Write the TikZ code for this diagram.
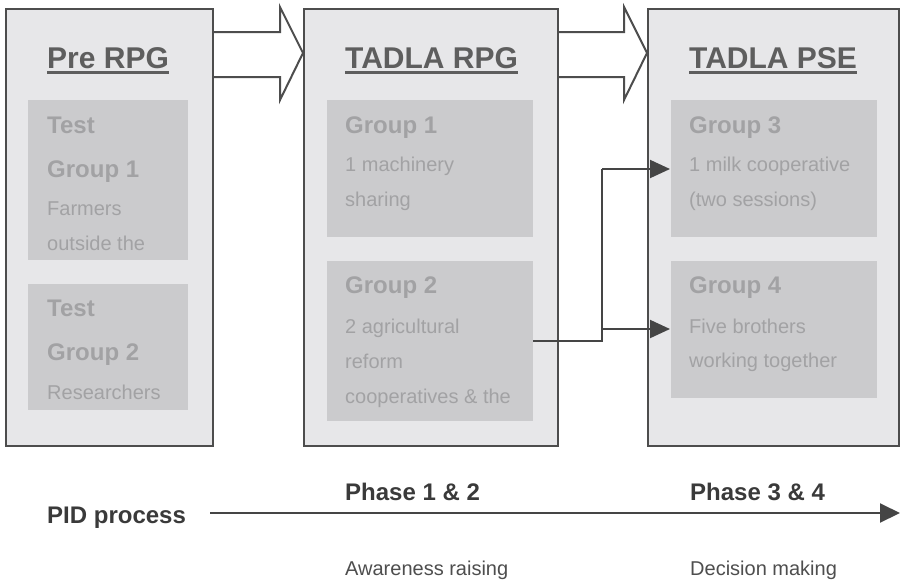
\documentclass[tikz,border=0pt]{standalone}
\usepackage{fontspec}
\setmainfont{Liberation Sans}
\usetikzlibrary{arrows.meta}
\definecolor{outerfill}{HTML}{E7E7E9}
\definecolor{outerline}{HTML}{4D4D4D}
\definecolor{innerfill}{HTML}{CBCBCD}
\definecolor{innertext}{HTML}{A2A2A4}
\definecolor{titletext}{HTML}{5E5E5E}
\definecolor{linecol}{HTML}{454545}
\definecolor{bottomtext}{HTML}{3A3A3A}
\definecolor{subtext}{HTML}{4E4E4E}
\begin{document}
\begin{tikzpicture}[x=1pt,y=-1pt,
  outerbox/.style={draw=outerline,fill=outerfill,line width=2pt,inner sep=0pt,anchor=north west},
  innerbox/.style={fill=innerfill,inner sep=0pt,anchor=north west},
  ttl/.style={anchor=base west,inner sep=0pt,text=titletext,font=\fontsize{30}{36}\selectfont\bfseries},
  uline/.style={draw=titletext,line width=2.6pt},
  ghead/.style={anchor=base west,inner sep=0pt,text=innertext,font=\fontsize{24}{28}\selectfont\bfseries},
  gtext/.style={anchor=base west,inner sep=0pt,text=innertext,font=\fontsize{20}{24}\selectfont},
  blockarrow/.style={draw=outerline,fill=white,line width=2pt,line join=miter},
  conn/.style={draw=linecol,line width=2pt},
  conntip/.style={-{Triangle[length=20pt,width=18pt]}},
  btitle/.style={anchor=base west,inner sep=0pt,text=bottomtext,font=\fontsize{24}{28}\selectfont\bfseries},
  bsub/.style={anchor=base west,inner sep=0pt,text=subtext,font=\fontsize{20}{24}\selectfont},
]
\fill[white] (0,0) rectangle (901,581);
\useasboundingbox (0,0) rectangle (901,581);

% block arrows (behind boxes)
\draw[blockarrow] (212,32) -- (280,32) -- (280,7) -- (303,53) -- (280,100) -- (280,77) -- (212,77);
\draw[blockarrow] (557,32) -- (624,32) -- (624,7) -- (647,53) -- (624,100) -- (624,77) -- (557,77);

% outer boxes
\node[outerbox,minimum width=207pt,minimum height=437pt] (b1) at (5,8) {};
\node[outerbox,minimum width=254pt,minimum height=437pt] (b2) at (303,8) {};
\node[outerbox,minimum width=251pt,minimum height=437pt] (b3) at (647,8) {};

% inner boxes
\node[innerbox,minimum width=160pt,minimum height=160pt] (c1g1) at (28,100) {};
\node[innerbox,minimum width=160pt,minimum height=126pt] (c1g2) at (28,284) {};
\node[innerbox,minimum width=206pt,minimum height=137pt] (c2g1) at (327,100) {};
\node[innerbox,minimum width=206pt,minimum height=160pt] (c2g2) at (327,261) {};
\node[innerbox,minimum width=206pt,minimum height=137pt] (c3g1) at (671,100) {};
\node[innerbox,minimum width=206pt,minimum height=137pt] (c3g2) at (671,261) {};

% titles
\node[ttl] (t1) at (47,68) {Pre RPG};
\node[ttl] (t2) at (345,68) {TADLA RPG};
\node[ttl] (t3) at (689,68) {TADLA PSE};
\draw[uline] ([yshift=-4.5pt]t1.base west) -- ([yshift=-4.5pt]t1.base east);
\draw[uline] ([yshift=-4.5pt]t2.base west) -- ([yshift=-4.5pt]t2.base east);
\draw[uline] ([yshift=-4.5pt]t3.base west) -- ([yshift=-4.5pt]t3.base east);

% column 1 texts
\node[ghead] (a1) at (47,133) {Test};
\node[ghead] (a2) at (47,177) {Group 1};
\node[gtext] (a3) at (47,215) {Farmers};
\node[gtext] (a4) at (47,250) {outside the};
\node[ghead] (a5) at (47,316) {Test};
\node[ghead] (a6) at (47,360) {Group 2};
\node[gtext] (a7) at (47,399) {Researchers};

% column 2 texts
\node[ghead] (m1) at (345,133) {Group 1};
\node[gtext] (m2) at (345,171) {1 machinery};
\node[gtext] (m3) at (345,206) {sharing};
\node[ghead] (m4) at (345,293) {Group 2};
\node[gtext] (m5) at (345,333) {2 agricultural};
\node[gtext] (m6) at (345,368) {reform};
\node[gtext] (m7) at (345,403) {cooperatives \& the};

% column 3 texts
\node[ghead] (r1) at (689,133) {Group 3};
\node[gtext] (r2) at (689,171) {1 milk cooperative};
\node[gtext] (r3) at (689,206) {(two sessions)};
\node[ghead] (r4) at (689,293) {Group 4};
\node[gtext] (r5) at (689,333) {Five brothers};
\node[gtext] (r6) at (689,367) {working together};

% connectors
\coordinate (src) at (c2g2.east |- 0,341);
\coordinate (jlow) at (602,341);
\coordinate (jtop) at (602,169);
\coordinate (jmid) at (602,329);
\coordinate (dst1) at (670,169);
\coordinate (dst2) at (670,329);
\draw[conn] (src) -- (jlow) -- (jtop);
\draw[conn,conntip] (jtop) -- (dst1);
\draw[conn,conntip] (jmid) -- (dst2);

% bottom timeline
\node[btitle] (pid) at (47,523) {PID process};
\coordinate (tlstart) at (210,513);
\coordinate (tlend) at (900,513);
\draw[conn,-{Triangle[length=20pt,width=19pt]}] (tlstart) -- (tlend);
\node[btitle] (ph1) at (345,500) {Phase 1 \& 2};
\node[btitle] (ph2) at (690,500) {Phase 3 \& 4};
\node[bsub] (s1) at (345,575) {Awareness raising};
\node[bsub] (s2) at (690,575) {Decision making};
\end{tikzpicture}
\end{document}
